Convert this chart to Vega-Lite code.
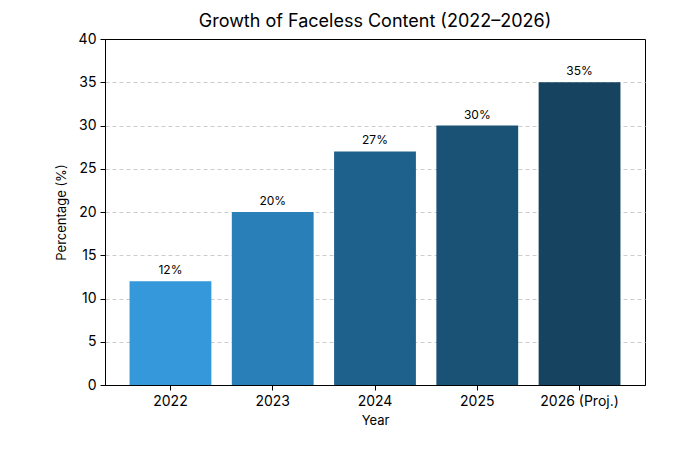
{
  "$schema": "https://vega.github.io/schema/vega-lite/v6.json",
  "autosize": "none",
  "padding": {"left": 105, "top": 39, "right": 55, "bottom": 65},
  "width": 540,
  "height": 346,
  "title": {
    "text": "Growth of Faceless Content (2022–2026)",
    "fontSize": 18,
    "fontWeight": "normal",
    "font": "Inter",
    "color": "#000000",
    "offset": 1
  },
  "config": {
    "font": "Inter",
    "view": {"stroke": "#000000", "strokeWidth": 1},
    "axis": {
      "labelColor": "#000000",
      "titleColor": "#000000",
      "domainColor": "#000000",
      "tickColor": "#000000",
      "tickSize": 5,
      "labelFontSize": 14,
      "titleFontSize": 13,
      "titleFontWeight": "normal"
    }
  },
  "data": {
    "values": [
      {"year": "2022", "pct": 12, "color": "#3498db"},
      {"year": "2023", "pct": 20, "color": "#2980b9"},
      {"year": "2024", "pct": 27, "color": "#1f618d"},
      {"year": "2025", "pct": 30, "color": "#1a5276"},
      {"year": "2026 (Proj.)", "pct": 35, "color": "#154360"}
    ]
  },
  "encoding": {
    "x": {
      "field": "year",
      "type": "nominal",
      "sort": null,
      "title": "Year",
      "scale": {"paddingInner": 0.2, "paddingOuter": 0.24},
      "axis": {"labelAngle": 0, "labelPadding": 4, "titlePadding": 6, "grid": false}
    },
    "y": {
      "field": "pct",
      "type": "quantitative",
      "title": "Percentage (%)",
      "scale": {"domain": [0, 40], "nice": false},
      "axis": {
        "values": [0, 5, 10, 15, 20, 25, 30, 35, 40],
        "grid": true,
        "gridColor": "#cccccc",
        "gridDash": [4, 3],
        "gridOpacity": {"condition": {"test": "datum.value >= 40 || datum.value <= 0", "value": 0}, "value": 1},
        "titlePadding": 10,
        "labelPadding": 4
      }
    }
  },
  "layer": [
    {
      "mark": {"type": "bar"},
      "encoding": {
        "color": {"field": "color", "type": "nominal", "scale": null}
      }
    },
    {
      "transform": [{"calculate": "datum.pct + '%'", "as": "label"}],
      "mark": {"type": "text", "dy": -11, "fontSize": 12, "color": "#000000"},
      "encoding": {
        "text": {"field": "label", "type": "nominal"}
      }
    }
  ]
}
